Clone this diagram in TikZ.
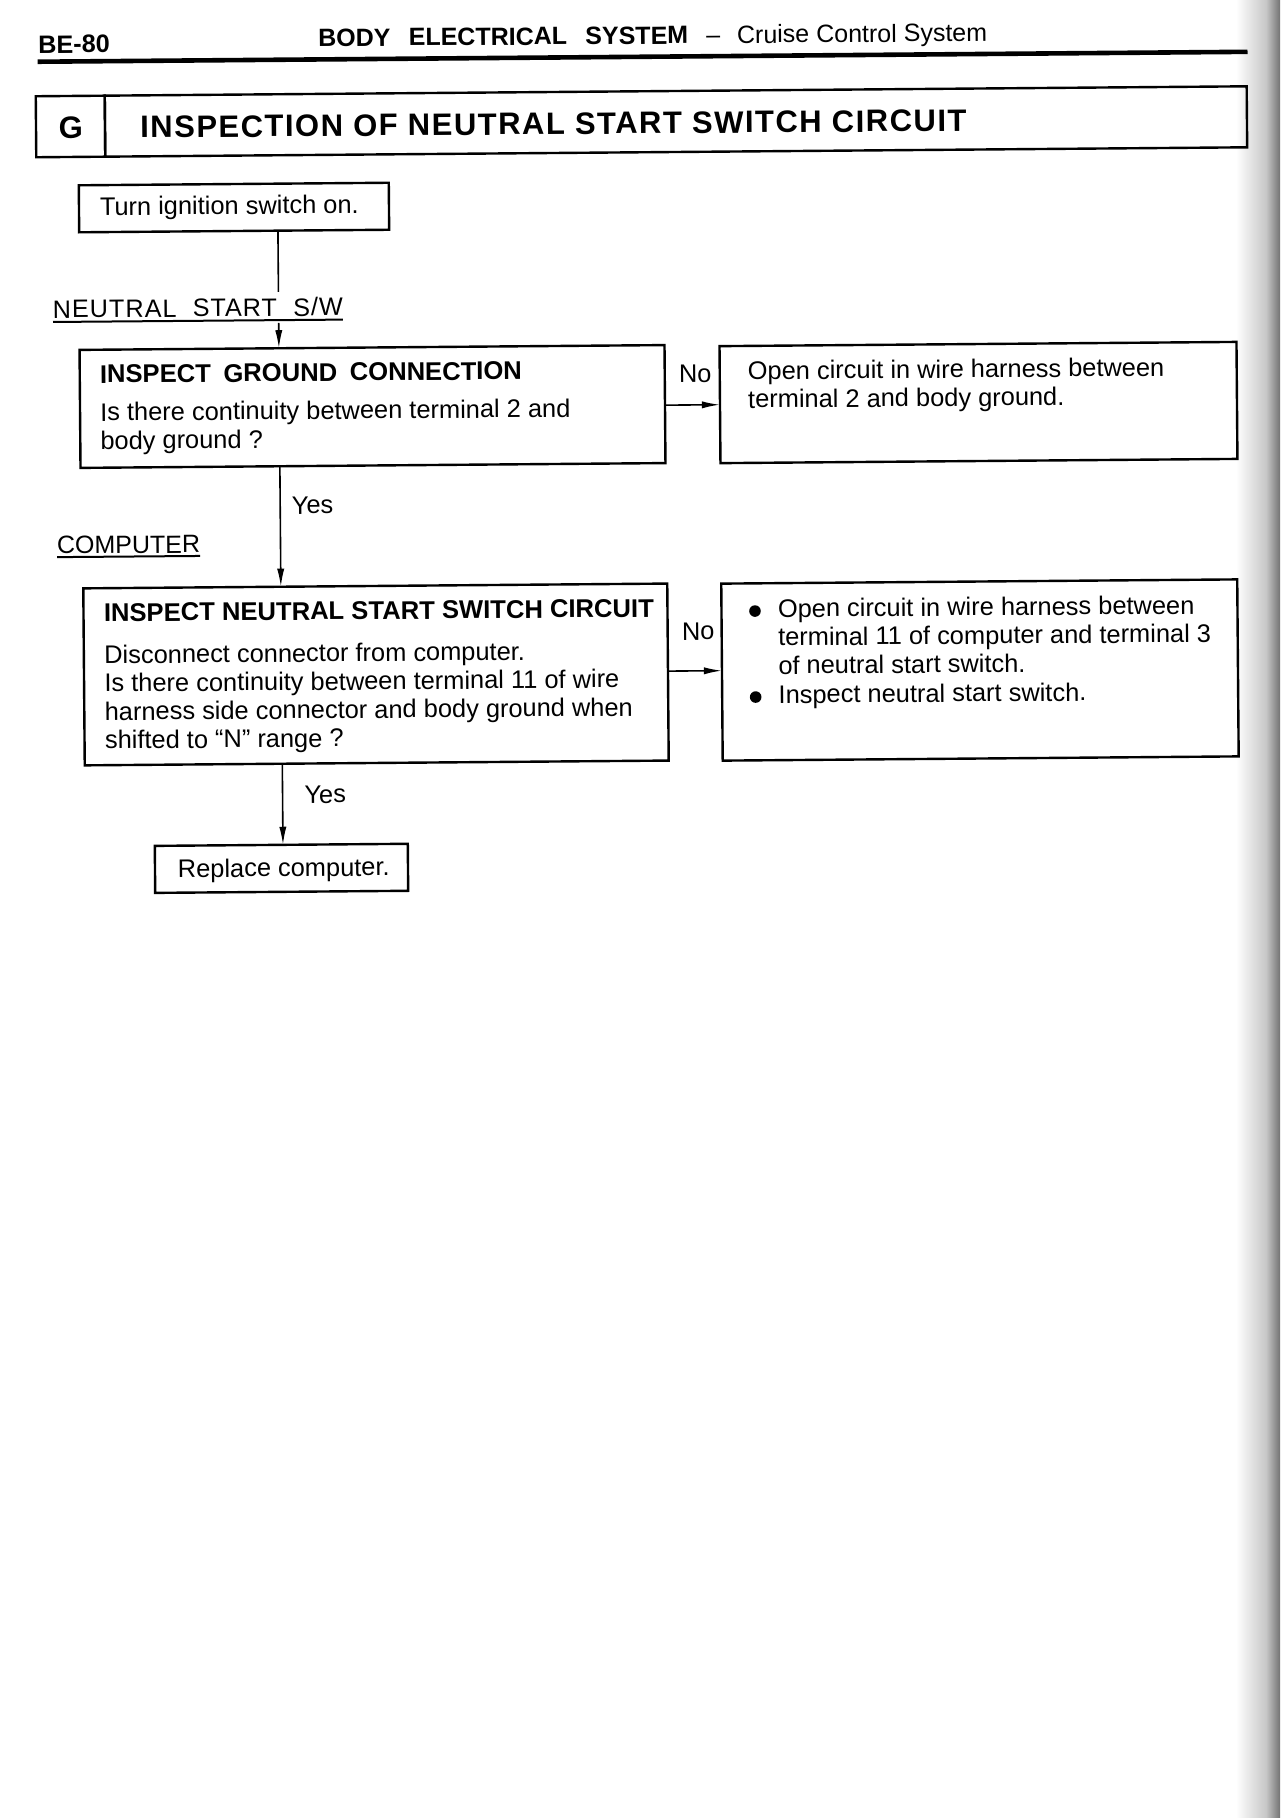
\documentclass[tikz,border=0pt]{standalone}
\usepackage{fontspec}
\setmainfont{Liberation Sans}
\usetikzlibrary{arrows.meta}
\newcommand\bodyfont{\fontsize{12.7}{14.2}\selectfont}
\newcommand\headfont{\fontsize{12.8}{14.2}\selectfont\bfseries}
\newcommand\titlefont{\fontsize{15.5}{18}\selectfont\bfseries\addfontfeature{LetterSpace=4.8}}
\newcommand\lns[1]{\parbox[t]{300pt}{\raggedright #1}}
\begin{document}
\begin{tikzpicture}[x=0.5pt,y=-0.5pt,
  frame/.style={draw, line width=1.2pt, inner sep=0pt, outer sep=0pt},
  txt/.style={anchor=base west, inner sep=0pt, outer sep=0pt, font=\bodyfont},
  hd/.style={anchor=base west, inner sep=0pt, outer sep=0pt, font=\headfont},
  conn/.style={line width=0.8pt},
  arr/.style={conn, -{Latex[length=9pt,width=3.6pt]}}]

\useasboundingbox (0,0) rectangle (1280,1818);
\fill[white] (0,0) rectangle (1280,1818);
\shade[left color=white, right color=black!22] (1236,0) rectangle (1266,1818);
\shade[left color=black!22, right color=black!55] (1266,0) rectangle (1280,1818);

\begin{scope}[rotate around={0.47:(640,480)}, transform shape]

% header
\node[anchor=base west, inner sep=0pt, font=\fontsize{12.6}{14}\selectfont\bfseries] (page) at (41.5,48.3) {BE-80};
\node[anchor=base west, inner sep=0pt, font=\fontsize{12.5}{14}\selectfont] (hdr) at (321.5,44.1)
  {\textbf{BODY\hspace{9.15pt}ELECTRICAL\hspace{9.15pt}SYSTEM}\hspace{9pt}--\hspace{8.5pt}Cruise Control System};
\draw[line width=2.3pt] (41,56.8) -- (1251,56.8);

% title box
\node[frame, minimum width=34.5pt, minimum height=30.5pt] (gcell) at (73.4,121.8) {};
\node[frame, minimum width=571pt, minimum height=30.5pt, anchor=west] (tcell) at (gcell.east) {};
\node[anchor=base, inner sep=0pt, font=\fontsize{15.5}{18}\selectfont\bfseries] (glabel) at (73.8,133.6) {G};
\node[anchor=base west, inner sep=0pt, font=\titlefont] (title) at (142.8,133.8) {INSPECTION OF NEUTRAL START SWITCH CIRCUIT};

% start
\node[frame, minimum width=155pt, minimum height=23.5pt] (turn) at (236.2,204.2) {};
\node[txt] (turnt) at (102.2,211) {Turn ignition switch on.};

\coordinate (v1) at (280,289);
\coordinate (v2) at (280,320);
\draw[conn] (turn.south -| v1) -- (v1);
\node[txt, font=\fontsize{12.6}{14}\selectfont\addfontfeature{LetterSpace=4}] (nsw) at (54.3,313.2) {\makebox[145pt][s]{NEUTRAL START S/W}};
\draw[line width=1pt] ([yshift=-2pt]nsw.base west) -- ([yshift=-2pt]nsw.base east);

% box 1
\node[frame, minimum width=292.5pt, minimum height=59pt] (box1) at (373.1,404.3) {};
\node[hd] (b1h) at (100.8,378.6) {\makebox[211pt][s]{INSPECT GROUND CONNECTION}};
\node[txt] (b1t) at (100.8,416.6) {\lns{Is there continuity between terminal 2 and\\ body ground ?}};
\draw[arr] (v2) -- (v2 |- box1.north);

% box 2
\node[frame, minimum width=258.5pt, minimum height=58.5pt] (box2) at (979.1,405.3) {};
\node[txt] (b2t) at (748.8,380.5) {\lns{Open circuit in wire harness between\\ terminal 2 and body ground.}};
\coordinate (n1) at (692,405.4);
\draw[arr] (box1.east |- n1) -- (box2.west |- n1);
\node[txt] (no1) at (679.8,382.5) {No};

% box 3
\node[frame, minimum width=292pt, minimum height=88.5pt] (box3) at (374.4,672.3) {};
\node[hd] (b3h) at (102.9,617.2) {INSPECT NEUTRAL START SWITCH CIRCUIT};
\node[txt] (b3t) at (102.9,659.2) {\lns{Disconnect connector from computer.\\ Is there continuity between terminal 11 of wire\\ harness side connector and body ground when\\ shifted to “N” range ?}};

\coordinate (v3) at (280,500);
\draw[arr] (box1.south -| v3) -- (box3.north -| v3);
\node[txt] (yes1) at (291.7,511.2) {Yes};
\node[txt, font=\fontsize{12.5}{14}\selectfont] (comp) at (56.4,549.2) {COMPUTER};
\draw[line width=1pt] ([yshift=-1.6pt]comp.base west) -- ([yshift=-1.6pt]comp.base east);

% box 4
\node[frame, minimum width=258pt, minimum height=88.5pt] (box4) at (978.4,672.8) {};
\node[txt] (b4a) at (776.9,618.5) {\lns{Open circuit in wire harness between\\ terminal 11 of computer and terminal 3\\ of neutral start switch.}};
\node[txt] (b4b) at (776.9,704.5) {Inspect neutral start switch.};
\fill (753.9,612) circle (2.9pt);
\fill (753.9,698) circle (2.9pt);
\coordinate (n2) at (695,671.4);
\draw[arr] (box3.east |- n2) -- (box4.west |- n2);
\node[txt] (no2) at (680.7,640.4) {No};

% final
\node[frame, minimum width=126.5pt, minimum height=23.5pt] (repl) at (278.3,865.4) {};
\node[txt] (replt) at (174.7,873.7) {Replace computer.};
\coordinate (v4) at (280,800);
\draw[arr] (box3.south -| v4) -- (repl.north -| v4);
\node[txt] (yes2) at (301.9,800.4) {Yes};

\end{scope}
\end{tikzpicture}
\end{document}
